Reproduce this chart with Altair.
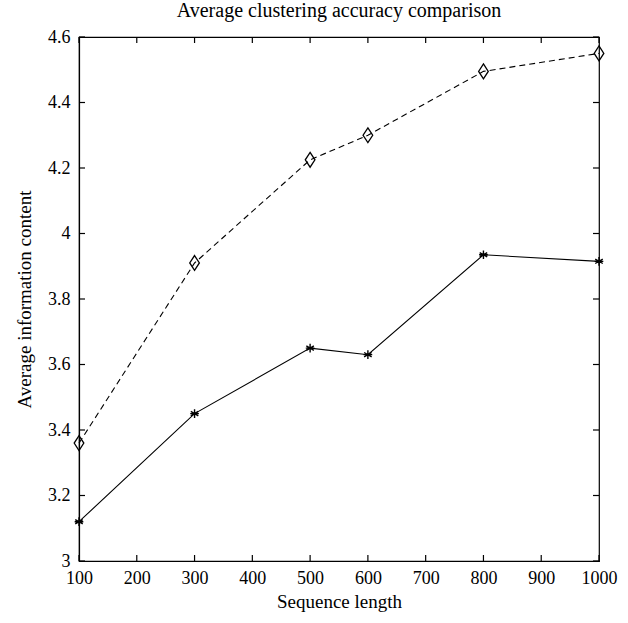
import altair as alt
import pandas as pd

# Sequence lengths and the average information content of the two methods
seq_len = [100, 300, 500, 600, 800, 1000]
dashed_vals = [3.36, 3.91, 4.225, 4.30, 4.495, 4.55]
solid_vals = [3.12, 3.45, 3.65, 3.63, 3.935, 3.915]

x_ticks = [100, 200, 300, 400, 500, 600, 700, 800, 900, 1000]
y_ticks = [3.0, 3.2, 3.4, 3.6, 3.8, 4.0, 4.2, 4.4, 4.6]

W, H = 520, 524
FONT = "Liberation Serif"
X_DOM = [100, 1000]
Y_DOM = [3, 4.6]

# Inward tick length in pixels, converted to data units of each scale
TL = 6
dx = (X_DOM[1] - X_DOM[0]) * TL / W
dy = (Y_DOM[1] - Y_DOM[0]) * TL / H

df_d = pd.DataFrame({"len": seq_len, "val": dashed_vals})
df_s = pd.DataFrame({"len": seq_len, "val": solid_vals})

xs = alt.Scale(domain=X_DOM, nice=False, zero=False)
ys = alt.Scale(domain=Y_DOM, nice=False, zero=False)

common_axis = dict(tickSize=0, grid=False, domainColor="black", domainWidth=1.2,
                   labelFont=FONT, titleFont=FONT, labelFontSize=18, titleFontSize=19,
                   labelColor="black", titleColor="black", titleFontWeight="normal",
                   labelFlush=False, labelOverlap=False)

x_axis = alt.Axis(values=x_ticks, labelPadding=8, titlePadding=5, format="d", **common_axis)
y_axis = alt.Axis(values=y_ticks, labelPadding=9, titlePadding=13, format="~g", **common_axis)

x_enc = alt.X("len:Q", scale=xs, title="Sequence length", axis=x_axis)
y_enc = alt.Y("val:Q", scale=ys, title="Average information content", axis=y_axis)

diamond = "M0,-1L0.65,0L0,1L-0.65,0Z"
asterisk = "M0,-1L0,1M-0.87,-0.5L0.87,0.5M-0.87,0.5L0.87,-0.5M-1,0L1,0"

dash_line = alt.Chart(df_d).mark_line(color="black", strokeWidth=1.1, strokeDash=[6, 4]).encode(x=x_enc, y=y_enc)
dash_pts = alt.Chart(df_d).mark_point(shape=diamond, size=220, filled=False, color="black",
                                      strokeWidth=1.3, opacity=1).encode(x=x_enc, y=y_enc)
solid_line = alt.Chart(df_s).mark_line(color="black", strokeWidth=1.1).encode(x=x_enc, y=y_enc)
solid_pts = alt.Chart(df_s).mark_point(shape=asterisk, size=75, filled=False, color="black",
                                       strokeWidth=1.4, opacity=1).encode(x=x_enc, y=y_enc)

# Tick segments along each edge of the frame, pointing into the plot
xt_rows = []
for t in x_ticks:
    xt_rows.append({"len": t, "val": Y_DOM[0], "val2": Y_DOM[0] + dy})
    xt_rows.append({"len": t, "val": Y_DOM[1] - dy, "val2": Y_DOM[1]})
yt_rows = []
for t in y_ticks:
    yt_rows.append({"val": t, "len": X_DOM[0], "len2": X_DOM[0] + dx})
    yt_rows.append({"val": t, "len": X_DOM[1] - dx, "len2": X_DOM[1]})

tick_style = dict(color="black", strokeWidth=1.2, opacity=1)
x_tick_marks = alt.Chart(pd.DataFrame(xt_rows)).mark_rule(**tick_style).encode(
    x=x_enc, y=y_enc, y2="val2:Q")
y_tick_marks = alt.Chart(pd.DataFrame(yt_rows)).mark_rule(**tick_style).encode(
    x=x_enc, x2="len2:Q", y=y_enc)

chart = alt.layer(
    dash_line, solid_line, dash_pts, solid_pts, x_tick_marks, y_tick_marks,
).properties(
    width=W, height=H,
    background="white",
    title=alt.TitleParams("Average clustering accuracy comparison", font=FONT, fontSize=20,
                          fontWeight="normal", color="black", offset=7),
    autosize=alt.AutoSizeParams(type="none"),
    padding={"left": 79, "top": 37, "right": 29, "bottom": 62},
).configure_view(
    stroke="black", strokeWidth=1.2
)

chart.save("out.html", embed_options={"renderer": "svg", "actions": False})
